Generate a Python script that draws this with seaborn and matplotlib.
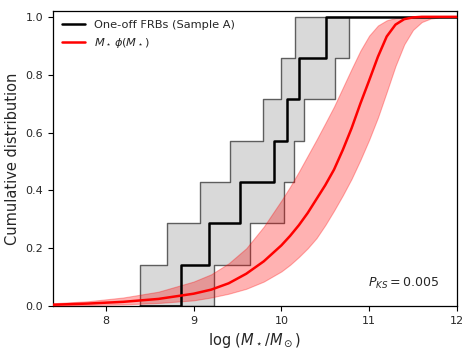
import numpy as np
import pandas as pd
import matplotlib
matplotlib.use("Agg")
import matplotlib.pyplot as plt
import seaborn as sns

# ---- data ----
# one-off FRB host stellar masses (log M*/Msun), sample A
frb_logm = [8.855, 9.18, 9.53, 9.92, 10.06, 10.20, 10.51]
# confidence band of the empirical CDF: where the upper / lower bounds step up
band_upper_x = [8.39, 8.70, 9.07, 9.42, 9.79, 10.00, 10.16]
band_lower_x = [9.235, 9.64, 10.03, 10.14, 10.26, 10.61, 10.77]

# M* phi(M*) cumulative distribution and its band
mass_grid = [7.4, 7.8, 8.2, 8.6, 9.0, 9.2, 9.4, 9.6, 9.8, 10.0, 10.1, 10.2,
             10.3, 10.4, 10.5, 10.6, 10.7, 10.8, 10.9, 11.0, 11.1, 11.2, 11.3,
             11.4, 11.5, 11.6, 11.7, 11.8, 12.0]
cdf_mid = [0.005, 0.009, 0.015, 0.025, 0.043, 0.057, 0.079, 0.112, 0.155, 0.21,
           0.243, 0.28, 0.322, 0.37, 0.418, 0.472, 0.54, 0.615, 0.70, 0.78,
           0.862, 0.932, 0.973, 0.992, 0.998, 1.0, 1.0, 1.0, 1.0]
cdf_hi = [0.010, 0.017, 0.030, 0.050, 0.085, 0.11, 0.148, 0.20, 0.275, 0.365,
          0.413, 0.465, 0.52, 0.575, 0.632, 0.69, 0.755, 0.82, 0.883, 0.935,
          0.97, 0.988, 0.996, 0.999, 1.0, 1.0, 1.0, 1.0, 1.0]
cdf_lo = [0.002, 0.004, 0.006, 0.011, 0.02, 0.03, 0.043, 0.06, 0.085, 0.12,
          0.143, 0.17, 0.20, 0.235, 0.28, 0.33, 0.383, 0.44, 0.505, 0.575,
          0.652, 0.74, 0.83, 0.905, 0.955, 0.982, 0.994, 0.998, 1.0]

p_ks = "0.005"
xlim = (7.4, 12.0)

# ---- figure ----
sns.set_style("ticks")
plt.rcParams['font.family'] = ['DejaVu Sans']
plt.rcParams['mathtext.fontset'] = 'dejavusans'

fig = plt.figure(figsize=(4.74, 3.56), dpi=100)
ax = fig.add_axes([0.112, 0.140, 0.852, 0.829])

n = len(frb_logm)
# confidence band (step)
start = min(band_upper_x)
end = max(band_lower_x)
grid = np.array(sorted(set([start] + band_upper_x + band_lower_x + [end])))
upper = np.searchsorted(np.sort(band_upper_x), grid, side='right') / n
lower = np.searchsorted(np.sort(band_lower_x), grid, side='right') / n
ax.fill_between(grid, lower, upper, step='post', facecolor=(0, 0, 0, 0.15),
                edgecolor=(0, 0, 0, 0.6), linewidth=1.0, zorder=2)

# red band
ax.fill_between(mass_grid, cdf_lo, cdf_hi, color='red', alpha=0.3,
                linewidth=0.8, zorder=3)

# empirical CDF (step)
xs = np.sort(frb_logm)
step_x = np.concatenate([[start], xs, [xlim[1]]])
step_y = np.concatenate([[0], np.arange(1, n + 1) / n, [1.0]])
df_step = pd.DataFrame({"x": step_x, "y": step_y})
sns.lineplot(data=df_step, x="x", y="y", drawstyle='steps-post', color='black',
             linewidth=1.8, ax=ax, zorder=4, label='One-off FRBs (Sample A)',
             estimator=None, sort=False)

df_mid = pd.DataFrame({"x": mass_grid, "y": cdf_mid})
sns.lineplot(data=df_mid, x="x", y="y", color='red', linewidth=1.8, ax=ax,
             zorder=5, label=r'$M_\star\,\phi(M_\star)$', estimator=None)

ax.set_xlim(*xlim)
ax.set_ylim(0, 1.02)
ax.set_xticks([8, 9, 10, 11, 12])
ax.set_yticks([0.0, 0.2, 0.4, 0.6, 0.8, 1.0])
ax.tick_params(labelsize=8, length=3.5, width=0.8, color='black')
for s in ax.spines.values():
    s.set_color('black')
    s.set_linewidth(0.9)

ax.set_xlabel(r'log $(M_\star/M_\odot)$', fontsize=10.5)
ax.set_ylabel('Cumulative distribution', fontsize=10.5)

ax.text(0.955, 0.05, r'$P_{KS} = $' + p_ks, transform=ax.transAxes,
        ha='right', va='bottom', fontsize=9)

ax.legend(loc='upper left', frameon=False, fontsize=8.2, handlelength=2.0,
          borderaxespad=0.4)

fig.savefig('out.png', dpi=100)
